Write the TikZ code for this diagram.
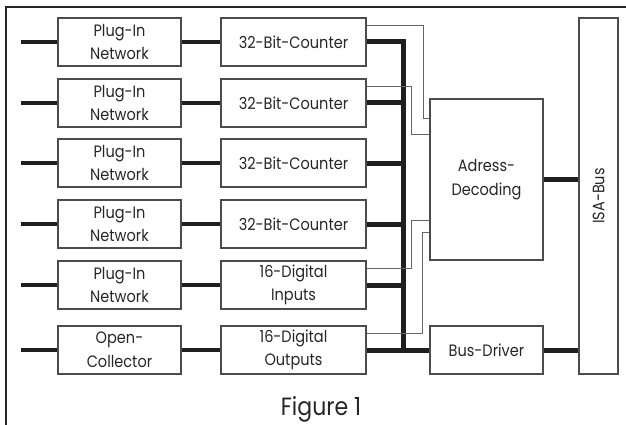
\documentclass[tikz,border=0pt]{standalone}
\usepackage{fontspec}
\setmainfont{Poppins}[FakeStretch=0.88]
\usetikzlibrary{calc}
\tikzset{
  blk/.style={draw=black!70, line width=1.1pt, rectangle, inner sep=0pt,
              align=center, text=black!85,
              font=\fontsize{16.5}{23.5}\selectfont},
  stub/.style={line width=3.6pt, black!88},
  busline/.style={line width=5pt, black!88},
  sig/.style={line width=0.9pt, black!60},
  frameline/.style={line width=1.2pt, black!85}
}
\begin{document}
\begin{tikzpicture}[x=1pt,y=-1pt]
  \useasboundingbox (0,0) rectangle (626,425);
  % outer frame (top and left edge only)
  \draw[frameline] (626,7) -- (6,7) -- (6,425);

  % input stage and counter column
  \foreach \i/\y/\txt/\ctxt in {
      1/42/{Plug-In\\Network}/{32-Bit-Counter},
      2/103/{Plug-In\\Network}/{32-Bit-Counter},
      3/163/{Plug-In\\Network}/{32-Bit-Counter},
      4/224/{Plug-In\\Network}/{32-Bit-Counter},
      5/285/{Plug-In\\Network}/{16-Digital\\Inputs},
      6/350/{Open-\\Collector}/{16-Digital\\Outputs}} {
    \node[blk, minimum width=123pt, minimum height=48pt] (p\i) at (119.5,\y) {\txt};
    \node[blk, minimum width=145pt, minimum height=48pt] (c\i) at (293.5,\y) {\ctxt};
    \coordinate (in\i) at (21,\y);
    \draw[stub] (in\i) -- (p\i.west);
    \draw[stub] (p\i.east) -- (c\i.west);
  }

  % decoder, driver and ISA bus
  \node[blk, minimum width=113pt, minimum height=161pt] (ad) at (486.5,179.5) {Adress-\\Decoding};
  \node[blk, minimum width=113pt, minimum height=48pt] (bd) at (486.5,350) {Bus-Driver};
  \node[blk, minimum width=39pt, minimum height=356pt] (isa) at (598.5,196) {};
  \node[rotate=90, text=black!85, font=\fontsize{16.5}{18}\selectfont] (isalbl) at (isa.center) {ISA-Bus};

  % internal data bus
  \coordinate (busbot) at (403,350);
  \draw[busline, line join=miter] (c1.east) -| (busbot);
  \foreach \i in {2,3,4,5} {
    \draw[busline] (c\i.east) -- (c\i.east -| busbot);
  }
  \draw[busline] (c6.east) -- (bd.west);
  \draw[busline] (ad.east) -- (ad.east -| isa.west);
  \draw[busline] (bd.east) -- (bd.east -| isa.west);

  % select lines into the address decoder
  \draw[sig] ($(c1.north east)+(0,8)$) -| ($(ad.north west)+(-6,20)$) -- ($(ad.north west)+(0,20)$);
  \draw[sig] ($(c2.north east)+(0,8)$) -| ($(ad.north west)+(-18,36)$) -- ($(ad.north west)+(0,36)$);
  \draw[sig] ($(c3.north east)+(0,8)$) -- ($(c3.north east)+(0,8)$ -| ad.west);
  \draw[sig] ($(c4.north east)+(0,8)$) -- ($(c4.north east)+(0,8)$ -| ad.west);
  \draw[sig] ($(c5.north east)+(0,8)$) -| ($(ad.south west)+(-18,-40)$) -- ($(ad.south west)+(0,-40)$);
  \draw[sig] ($(c6.north east)+(0,8)$) -| ($(ad.south west)+(-7,-28)$) -- ($(ad.south west)+(0,-28)$);

  % caption
  \node[text=black!85, font=\fontsize{25}{30}\selectfont, anchor=base] (cap) at (321,415) {Figure\ 1};
\end{tikzpicture}
\end{document}
